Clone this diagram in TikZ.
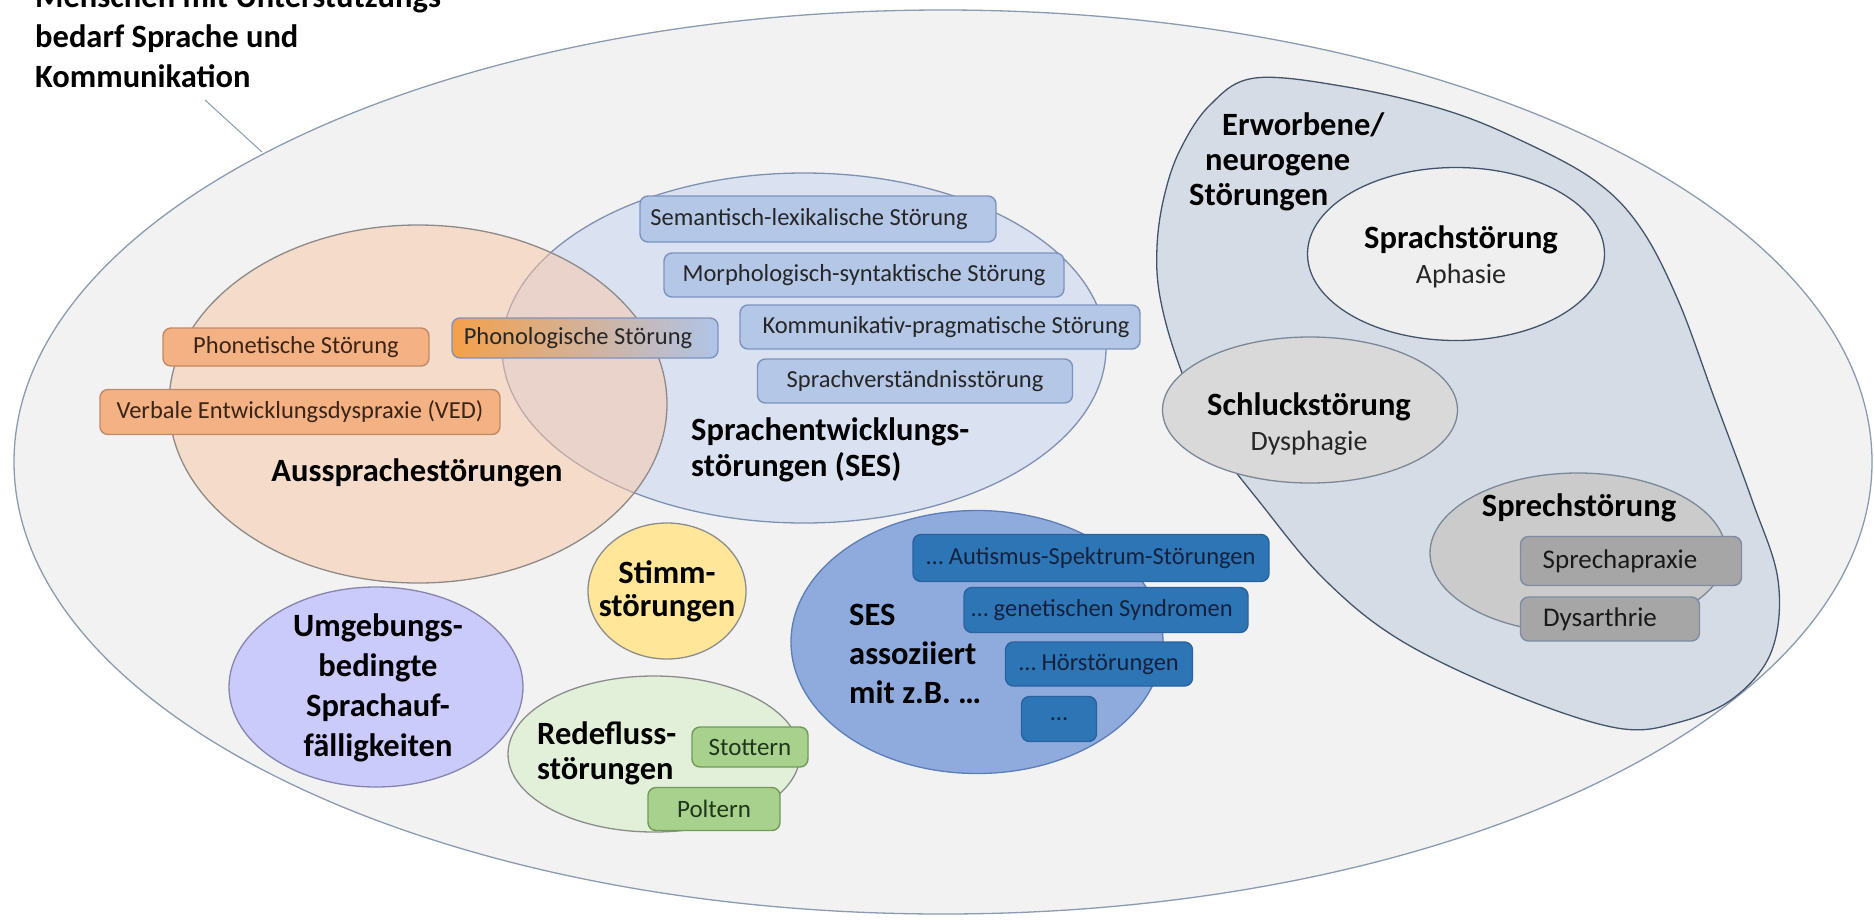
\documentclass[tikz,border=0pt]{standalone}
\usepackage{fontspec}
\setmainfont{Carlito}
\usetikzlibrary{shapes.geometric}
\definecolor{outerFill}{HTML}{F2F2F2}
\definecolor{outerDraw}{HTML}{8C9BB0}
\definecolor{sesFill}{HTML}{C4D4F2}
\definecolor{sesDraw}{HTML}{7F90B0}
\definecolor{ausFill}{HTML}{F8C6A4}
\definecolor{ausDraw}{HTML}{8E8A88}
\definecolor{bboxFill}{HTML}{B4C7E7}
\definecolor{bboxDraw}{HTML}{7D93BF}
\definecolor{oboxFill}{HTML}{F4B183}
\definecolor{oboxDraw}{HTML}{C08A68}
\definecolor{oText}{HTML}{3A2416}
\definecolor{phonL}{HTML}{F5A04A}
\definecolor{phonR}{HTML}{B0C4E8}
\definecolor{stimmFill}{HTML}{FFE699}
\definecolor{umgFill}{HTML}{CACAFB}
\definecolor{umgDraw}{HTML}{8585B0}
\definecolor{redeFill}{HTML}{E2F0D9}
\definecolor{gboxFill}{HTML}{A9D18E}
\definecolor{gboxDraw}{HTML}{6F9A5A}
\definecolor{gText}{HTML}{1E361A}
\definecolor{sesAFill}{HTML}{8FAADC}
\definecolor{sesADraw}{HTML}{5B7DB8}
\definecolor{dboxFill}{HTML}{2E75B6}
\definecolor{dboxDraw}{HTML}{2A62A0}
\definecolor{dText}{HTML}{14213D}
\definecolor{erwFill}{HTML}{D6DCE5}
\definecolor{erwDraw}{HTML}{44546A}
\definecolor{sprFill}{HTML}{EFEFF0}
\definecolor{schFill}{HTML}{D9D9D9}
\definecolor{sprechFill}{HTML}{CBCBCB}
\definecolor{grayBoxFill}{HTML}{A6A6A6}
\definecolor{grayBoxDraw}{HTML}{7F8CA3}
\definecolor{grayLine}{HTML}{8C8C8C}
\begin{document}
\begin{tikzpicture}[x=1pt,y=-1pt,
  ell/.style={ellipse, inner sep=0pt, line width=1.3pt},
  boxn/.style={rectangle, rounded corners=8pt, line width=1.4pt, inner sep=0pt,
     font=\fontsize{24.5}{29}\selectfont},
  bigl/.style={inner sep=0pt, font=\fontsize{32.5}{36}\selectfont\bfseries, text=black},
  subl/.style={inner sep=0pt, font=\fontsize{28}{32}\selectfont, text=black!85},
  bluebox/.style={boxn, fill=bboxFill, draw=bboxDraw, text=black!85},
  orangebox/.style={boxn, fill=oboxFill, draw=oboxDraw, text=oText},
  greenbox/.style={boxn, fill=gboxFill, draw=gboxDraw, text=gText, font=\fontsize{25}{29}\selectfont},
  darkbox/.style={boxn, fill=dboxFill, draw=dboxDraw, text=dText},
  graybox/.style={boxn, fill=grayBoxFill, draw=grayBoxDraw, text=black!90, font=\fontsize{27}{31}\selectfont},
  leader/.style={draw=outerDraw, line width=1pt}
]
\useasboundingbox (0,0) rectangle (1874,919);
\fill[white] (0,0) rectangle (1874,919);

% outer ellipse
\node[ell, fill=outerFill, draw=outerDraw, minimum width=1858pt, minimum height=904pt] (outer) at (943,462) {};

% SES and Aussprache
\node[ell, fill=sesFill, fill opacity=0.5, draw=sesDraw, minimum width=604pt, minimum height=350pt] (ses) at (804,348) {};
\node[ell, fill=ausFill, fill opacity=0.5, draw=ausDraw, minimum width=498pt, minimum height=358pt] (aus) at (418,404) {};

\node[bluebox, minimum width=356pt, minimum height=46pt] (sem) at (818,219) {Semantisch-lexikalische Störung\hspace*{18pt}};
\node[bluebox, minimum width=400pt, minimum height=44pt] (morph) at (864,275) {Morphologisch-syntaktische Störung};
\node[bluebox, minimum width=400pt, minimum height=44pt] (komm) at (940,327) {\hspace*{12pt}Kommunikativ-pragmatische Störung};
\node[bluebox, minimum width=315pt, minimum height=44pt] (verst) at (915,381) {Sprachverständnisstörung};
\node[boxn, left color=phonL, right color=phonR, draw=bboxDraw, text=black!85, minimum width=266pt, minimum height=40pt] (phon) at (585,338) {Phonologische Störung\hspace*{14pt}};

\node[orangebox, minimum width=266pt, minimum height=38pt] (phonet) at (296,347) {Phonetische Störung};
\node[orangebox, minimum width=400pt, minimum height=45pt] (ved) at (300,412) {Verbale Entwicklungsdyspraxie (VED)};

\node[bigl] (ausT) at (417,473) {Aussprachestörungen};
\node[bigl, anchor=west, align=left, font=\fontsize{32.5}{36}\selectfont\bfseries] (sesT) at (691,450) {Sprachentwicklungs-\\störungen (SES)};

% small circles bottom left
\node[ell, fill=stimmFill, draw=grayLine, minimum width=158pt, minimum height=136pt] (stimm) at (667,591) {};
\node[bigl, align=center, font=\fontsize{32.5}{33}\selectfont\bfseries] (stimmT) at (667,591) {Stimm-\\störungen};

\node[ell, fill=umgFill, draw=umgDraw, minimum width=294pt, minimum height=200pt] (umg) at (376,687) {};
\node[bigl, align=center, font=\fontsize{32.5}{40}\selectfont\bfseries] (umgT) at (378,688) {Umgebungs-\\bedingte\\Sprachauf-\\fälligkeiten};

\node[ell, fill=redeFill, draw=grayLine, minimum width=292pt, minimum height=156pt] (rede) at (654,754) {};
\node[bigl, anchor=west, align=left, font=\fontsize{32.5}{35}\selectfont\bfseries] (redeT) at (537,753) {Redefluss-\\störungen};
\node[greenbox, minimum width=116pt, minimum height=40pt] (stott) at (750,747) {Stottern};
\node[greenbox, minimum width=132pt, minimum height=43pt] (polt) at (714,809) {Poltern};

% SES assoziiert
\node[ell, fill=sesAFill, draw=sesADraw, minimum width=372pt, minimum height=263pt] (sesA) at (977,642) {};
\node[bigl, anchor=west, align=left, font=\fontsize{32.5}{39}\selectfont\bfseries] (sesAT) at (849,654) {SES\\assoziiert\\mit z.B. \dots};
\node[darkbox, minimum width=356pt, minimum height=47pt] (aut) at (1091,558) {\dots\ Autismus-Spektrum-Störungen};
\node[darkbox, minimum width=284pt, minimum height=45pt] (gen) at (1106,610) {\dots\ genetischen Syndromen\hspace*{8pt}};
\node[darkbox, minimum width=187pt, minimum height=44pt] (hoer) at (1099,664) {\dots\ Hörstörungen};
\node[darkbox, minimum width=75pt, minimum height=45pt] (etc) at (1059,719) {\dots};

% Erworbene / neurogene
\draw[fill=erwFill, draw=erwDraw, line width=1.3pt] plot[smooth cycle, tension=0.6] coordinates {
 (1255,78) (1347,87) (1445,110) (1520,140) (1594,180) (1640,227) (1678,300)
 (1715,400) (1752,500) (1778,580) (1772,650) (1735,697) (1680,722) (1617,728)
 (1510,693) (1400,640) (1325,580) (1262,505) (1210,435) (1178,362) (1160,297)
 (1157,247) (1164,197) (1180,150) (1210,105)};
\node[bigl, anchor=west, align=left, font=\fontsize{32.5}{35}\selectfont\bfseries] (erwT) at (1189,162) {\hspace*{33pt}Erworbene/\\\hspace*{16pt}neurogene\\Störungen};

\node[ell, fill=sprFill, draw=erwDraw, minimum width=297pt, minimum height=173pt] (spr) at (1456,254) {};
\node[bigl] (sprT) at (1461,240) {Sprachstörung};
\node[subl] (aphT) at (1461,276) {Aphasie};

\node[ell, fill=schFill, draw=erwDraw!70, minimum width=295pt, minimum height=146pt] (sch) at (1310,410) {};
\node[bigl] (schT) at (1309,407) {Schluckstörung};
\node[subl] (dysphT) at (1309,443) {Dysphagie};

\node[ell, fill=sprechFill, draw=erwDraw!70, minimum width=296pt, minimum height=160pt] (sprech) at (1578,553) {};
\node[bigl] (sprechT) at (1579,508) {Sprechstörung};
\node[graybox, minimum width=221pt, minimum height=49pt] (apr) at (1631,561) {Sprechapraxie\hspace*{22pt}};
\node[graybox, minimum width=179pt, minimum height=44pt] (dys) at (1610,619) {Dysarthrie\hspace*{20pt}};

% title
\node[bigl, anchor=west, align=left, font=\fontsize{32.5}{40}\selectfont\bfseries] (title) at (35,36) {Menschen mit Unterstützungs-\\bedarf Sprache und\\Kommunikation};
\coordinate (ldA) at (205,100);
\coordinate (ldB) at (262,152);
\draw[leader] (ldA) -- (ldB);
\end{tikzpicture}
\end{document}
